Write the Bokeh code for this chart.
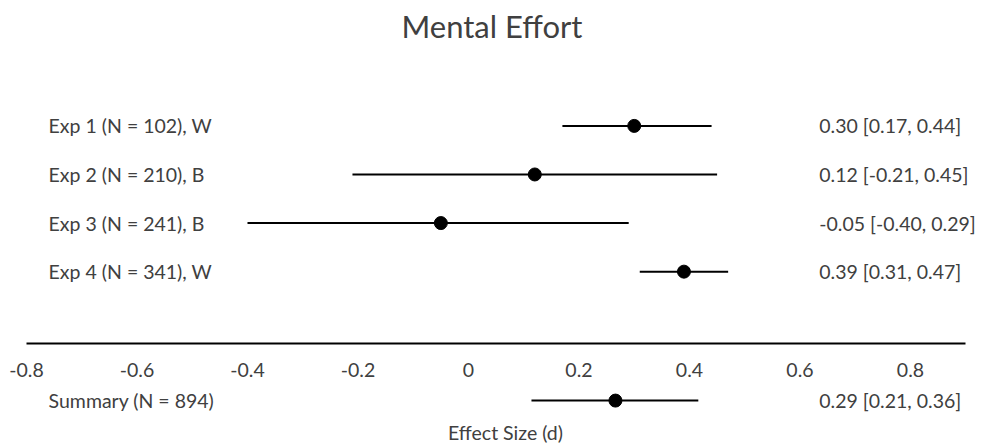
from bokeh.plotting import figure
from bokeh.models import ColumnDataSource, Range1d, FixedTicker, LabelSet
from bokeh.layouts import column
from bokeh.embed import file_html
from bokeh.resources import INLINE
from bokeh.core.properties import value

# ---- data ----
studies = ["Exp 1 (N = 102), W", "Exp 2 (N = 210), B", "Exp 3 (N = 241), B", "Exp 4 (N = 341), W"]
effects = [0.30, 0.12, -0.05, 0.39]
lower = [0.17, -0.21, -0.40, 0.31]
upper = [0.44, 0.45, 0.29, 0.47]
ci_labels = ["0.30 [0.17, 0.44]", "0.12 [-0.21, 0.45]", "-0.05 [-0.40, 0.29]", "0.39 [0.31, 0.47]"]
rows = [4, 3, 2, 1]

summary_study = ["Summary (N = 894)"]
summary_effect = [0.266]
summary_lower = [0.114]
summary_upper = [0.416]
summary_ci_label = ["0.29 [0.21, 0.36]"]
summary_row = [0.543]

x_ticks = [-0.8, -0.6, -0.4, -0.2, 0, 0.2, 0.4, 0.6, 0.8]
x_tick_labels = ["-0.8", "-0.6", "-0.4", "-0.2", "0", "0.2", "0.4", "0.6", "0.8"]

FONT = "Lato"
TXT = "#404040"
FS = "19.5px"
LABEL_X = -0.760
CI_X = 0.635
X_END = 0.934          # frame runs to the right page edge so CI texts are not clipped
AXIS_BOUNDS = (-0.8, 0.9)

src = ColumnDataSource(dict(study=studies, eff=effects, lo=lower, hi=upper,
                            ci=ci_labels, y=rows,
                            lx=[LABEL_X] * len(rows), cx=[CI_X] * len(rows)))
ssrc = ColumnDataSource(dict(study=summary_study, eff=summary_effect, lo=summary_lower,
                             hi=summary_upper, ci=summary_ci_label, y=summary_row,
                             lx=[LABEL_X], cx=[CI_X]))


def style(p):
    p.xgrid.visible = False
    p.ygrid.visible = False
    p.outline_line_color = None
    p.background_fill_color = "white"
    p.border_fill_color = "white"


def draw(p, s):
    p.segment(x0="lo", x1="hi", y0="y", y1="y", source=s, line_color="black", line_width=2)
    p.scatter(x="eff", y="y", source=s, size=13, fill_color="black", line_color="black")
    for col, xcol in (("study", "lx"), ("ci", "cx")):
        p.add_layout(LabelSet(x=xcol, y="y", text=col, source=s, text_font=value(FONT),
                              text_font_size=value(FS), text_color=value(TXT),
                              text_baseline=value("middle"), text_align=value("left")))


xr = Range1d(-0.8, X_END)

top = figure(width=984, height=385, x_range=xr, y_range=Range1d(-0.479, 5.49),
             output_backend="svg", toolbar_location=None, y_axis_location=None,
             min_border_left=26, min_border_right=0, min_border_top=0, min_border_bottom=42)
style(top)
top.title.text = "Mental Effort"
top.title.align = "left"
top.title.offset = 375
top.title.vertical_align = "top"
top.title.standoff = 13
top.title.text_font = FONT
top.title.text_font_size = "31px"
top.title.text_font_style = "normal"
top.title.text_color = TXT
draw(top, src)
ax = top.xaxis[0]
ax.bounds = AXIS_BOUNDS
ax.ticker = FixedTicker(ticks=x_ticks)
ax.major_label_overrides = {t: l for t, l in zip(x_ticks, x_tick_labels)}
ax.axis_line_width = 2
ax.axis_line_color = "black"
ax.major_tick_line_color = None
ax.minor_tick_line_color = None
ax.major_label_standoff = 13
ax.major_label_text_font = FONT
ax.major_label_text_font_size = FS
ax.major_label_text_color = TXT

bot = figure(width=984, height=61, x_range=xr, y_range=Range1d(0, 1),
             output_backend="svg", toolbar_location=None, y_axis_location=None,
             min_border_left=26, min_border_right=0, min_border_top=0, min_border_bottom=26)
style(bot)
draw(bot, ssrc)
bx = bot.xaxis[0]
bx.bounds = AXIS_BOUNDS
bx.ticker = FixedTicker(ticks=[])
bx.axis_line_color = None
bx.major_tick_line_color = None
bx.minor_tick_line_color = None
bx.axis_label = "Effect Size (d)"
bx.axis_label_standoff = 2
bx.axis_label_text_font = FONT
bx.axis_label_text_font_size = FS
bx.axis_label_text_font_style = "normal"
bx.axis_label_text_color = TXT

layout = column(top, bot, spacing=0)
open("out.html", "w").write(file_html(layout, INLINE))
